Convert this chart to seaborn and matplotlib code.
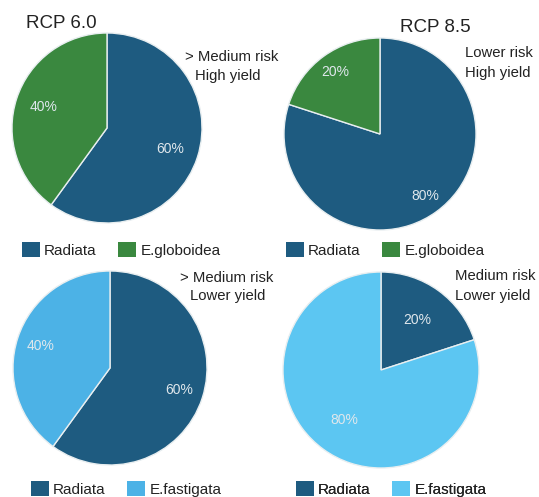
import matplotlib
matplotlib.use("Agg")
import matplotlib.pyplot as plt
import seaborn as sns
from matplotlib.patches import Patch

# Species mix under each climate scenario (percent of planted area)
scenarios = ["RCP 6.0", "RCP 8.5"]
species_top = ["Radiata", "E.globoidea"]
species_bottom = ["Radiata", "E.fastigata"]
top_left_values = [60, 40]
top_right_values = [80, 20]
bottom_left_values = [60, 40]
bottom_right_values = [20, 80]
risk_notes = [
    ["> Medium risk", "High yield"],
    ["Lower risk", "High yield"],
    ["> Medium risk", "Lower yield"],
    ["Medium risk", "Lower yield"],
]

RADIATA = "#1e5b80"
GLOBOIDEA = "#3a883f"
FASTIGATA_A = "#4cb2e6"
FASTIGATA_B = "#5cc6f2"

sns.set_theme(style="white")
plt.rcParams["font.family"] = ["Liberation Sans", "DejaVu Sans"]

W, H = 539, 497
fig = plt.figure(figsize=(W / 100, H / 100), dpi=100)
ax = fig.add_axes([0, 0, 1, 1])


def py(y):
    """Convert a top-down pixel row into the axes' bottom-up coordinate."""
    return H - y


panels = [
    dict(values=top_left_values, labels=species_top, colors=[RADIATA, GLOBOIDEA],
         center=(107, 128), radius=95, pct=0.70,
         legend=(22, 250), note=(185, 57), note2=(195, 76)),
    dict(values=top_right_values, labels=species_top, colors=[RADIATA, GLOBOIDEA],
         center=(380, 134), radius=96, pct=0.80,
         legend=(286, 250), note=(465, 53), note2=(465, 73)),
    dict(values=bottom_left_values, labels=species_bottom, colors=[RADIATA, FASTIGATA_A],
         center=(110, 368), radius=97, pct=0.75,
         legend=(31, 489), note=(180, 278), note2=(190, 296)),
    dict(values=bottom_right_values, labels=species_bottom, colors=[RADIATA, FASTIGATA_B],
         center=(381, 370), radius=98, pct=0.63,
         legend=(296, 489), note=(455, 276), note2=(455, 296)),
]

for i, p in enumerate(panels):
    cx, cy = p["center"]
    wedges, _, autotexts = ax.pie(
        p["values"], colors=p["colors"], startangle=90, counterclock=False,
        center=(cx, py(cy)), radius=p["radius"], autopct="%d%%",
        pctdistance=p["pct"], frame=True,
        wedgeprops=dict(edgecolor="#e8eef0", linewidth=1.0),
        textprops=dict(color="#dfe7ec", fontsize=10),
    )
    handles = [Patch(facecolor=c, edgecolor="none") for c in p["colors"]]
    leg = ax.legend(
        handles, p["labels"], ncol=2, loc="center left",
        bbox_to_anchor=(p["legend"][0], py(p["legend"][1])),
        bbox_transform=ax.transData, frameon=False, fontsize=11,
        handlelength=1.15, handleheight=1.15, handletextpad=0.3,
        columnspacing=1.4, borderpad=0, borderaxespad=0,
    )
    for t in leg.get_texts():
        t.set_color("#222222")
    ax.add_artist(leg)

    n1, n2 = risk_notes[i]
    ax.text(p["note"][0], py(p["note"][1]), n1, fontsize=10.7, color="#222222",
            ha="left", va="center")
    ax.text(p["note2"][0], py(p["note2"][1]), n2, fontsize=10.7, color="#222222",
            ha="left", va="center")

ax.text(26, py(24), scenarios[0], fontsize=13.5, color="#222222", ha="left", va="center")
ax.text(400, py(28), scenarios[1], fontsize=13.5, color="#222222", ha="left", va="center")

ax.set_xlim(0, W)
ax.set_ylim(0, H)
ax.set_aspect("auto")
ax.axis("off")

fig.savefig("out.png", dpi=100)
